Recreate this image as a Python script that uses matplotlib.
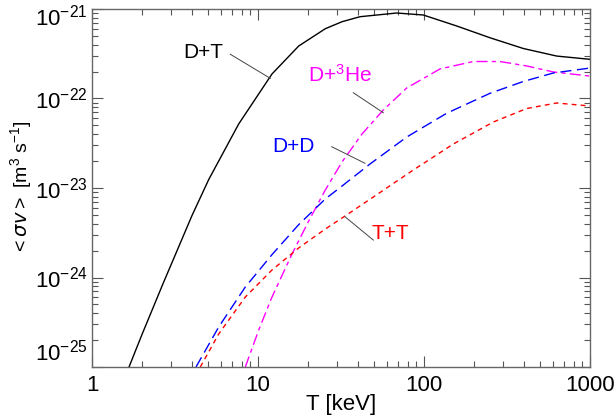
import matplotlib.pyplot as plt
from matplotlib.transforms import ScaledTranslation

plt.rcParams['font.family'] = ['Liberation Sans Narrow', 'Liberation Sans', 'DejaVu Sans']
plt.rcParams['mathtext.default'] = 'regular'

# temperatures (keV) and reactivities (m^3/s)
T_dt = [1.671, 2.001, 2.677, 4.004, 5.047, 7.65, 12.14, 17.59, 25.43, 32.07, 41.16, 68.47,
        99.0, 157.4, 249.8, 396.5, 630.0, 1000]
sv_dt = [1.0e-25, 2.31e-25, 8.52e-25, 4.93e-24, 1.242e-23, 5.19e-23, 1.879e-22, 3.86e-22,
         6.02e-22, 7.21e-22, 8.20e-22, 9.02e-22, 8.57e-22, 6.46e-22, 4.77e-22, 3.62e-22,
         2.98e-22, 2.74e-22]

T_dhe = [8.385, 10.10, 12.14, 16.03, 20.21, 25.43, 32.07, 42.31, 56.88, 78.66, 124.9, 198.2,
         287.0, 415.7, 601.0, 1000]
sv_dhe = [1.0e-25, 2.59e-25, 6.05e-25, 1.83e-24, 4.28e-24, 9.50e-24, 1.953e-23, 4.01e-23,
          7.44e-23, 1.31e-22, 2.14e-22, 2.59e-22, 2.59e-22, 2.31e-22, 1.98e-22, 1.78e-22]

T_dd = [4.231, 5.799, 8.385, 12.14, 17.59, 25.43, 32.07, 47.28, 78.66, 137.0, 249.8, 396.5,
        601.0, 1000]
sv_dd = [1.0e-25, 2.80e-25, 7.83e-25, 1.80e-24, 3.90e-24, 7.54e-24, 1.052e-23, 1.854e-23,
         3.71e-23, 6.84e-23, 1.143e-22, 1.549e-22, 1.927e-22, 2.19e-22]

T_tt = [4.491, 5.799, 8.385, 12.14, 17.59, 25.43, 32.07, 49.50, 86.22, 150.2, 261.5, 415.7,
        630.0, 1000]
sv_tt = [1.0e-25, 2.34e-25, 6.05e-25, 1.213e-24, 2.14e-24, 3.48e-24, 4.62e-24, 7.93e-24,
         1.589e-23, 3.10e-23, 5.46e-23, 7.73e-23, 8.91e-23, 8.24e-23]

labels = ['D+T', 'D+$^3$He', 'D+D', 'T+T']
colors = ['black', '#ff00ff', '#0000ff', '#ff0000']
label_pos = [(4.66, 3.3e-22), (31.2, 1.83e-22), (16.3, 2.89e-23), (62.4, 3.12e-24)]
leader_start = [(6.81, 3.12e-22), (37.5, 1.16e-22), (27.8, 2.89e-23), (49.5, 2.62e-24)]
leader_end = [(11.86, 1.68e-22), (56.9, 6.93e-23), (44.1, 1.89e-23), (33.4, 4.78e-24)]

fig = plt.figure(figsize=(6.15, 4.19), dpi=100)
ax = fig.add_axes([92 / 615, 1 - 367 / 419, 498 / 615, 358 / 419])

ax.plot(T_dt, sv_dt, color='black', lw=1.0)
ax.plot(T_dhe, sv_dhe, color='#ff00ff', lw=1.0, linestyle=(0, (8, 3, 3, 3)))
ax.plot(T_dd, sv_dd, color='#0000ff', lw=1.0, linestyle=(0, (8, 4)))
ax.plot(T_tt, sv_tt, color='#ff0000', lw=1.0, linestyle=(0, (3.5, 3)))

for lab, col, p, s, e in zip(labels, colors, label_pos, leader_start, leader_end):
    ax.text(p[0], p[1], lab, color=col, fontsize=15, ha='center', va='center')
    ax.plot([s[0], e[0]], [s[1], e[1]], color='#444444', lw=0.7)

ax.set_xscale('log')
ax.set_yscale('log')
ax.set_xlim(1, 1000)
ax.set_ylim(1e-25, 1e-21)
ax.set_xticks([1, 10, 100, 1000])
ax.set_xticklabels(['1', '10', '100', '1000'])
ax.set_yticks([1e-25, 1e-24, 1e-23, 1e-22, 1e-21])
ax.set_yticklabels(['$10^{-25}$', '$10^{-24}$', '$10^{-23}$', '$10^{-22}$', '$10^{-21}$'])

ax.tick_params(which='both', direction='in', top=True, right=True, labelsize=16, color='#555555')
ax.tick_params(which='major', length=8, width=0.8)
ax.tick_params(which='minor', length=4, width=0.8)
ax.tick_params(axis='x', pad=6)
ax.tick_params(axis='y', pad=3)
for sp in ax.spines.values():
    sp.set_color('#666666')
    sp.set_linewidth(1.0)

# bottom and top y labels are nudged like in the original
ylabs = ax.get_yticklabels()
ylabs[0].set_transform(ylabs[0].get_transform() + ScaledTranslation(0, 17 / 100, fig.dpi_scale_trans))
ylabs[-1].set_transform(ylabs[-1].get_transform() + ScaledTranslation(0, -6 / 100, fig.dpi_scale_trans))

ax.set_xlabel('T [keV]', fontsize=16, labelpad=-2)
ax.set_ylabel(r'$<\mathit{\sigma v}>$ [m$^3$ s$^{-1}$]', fontsize=14, labelpad=1)

fig.savefig('out.png', dpi=100)
